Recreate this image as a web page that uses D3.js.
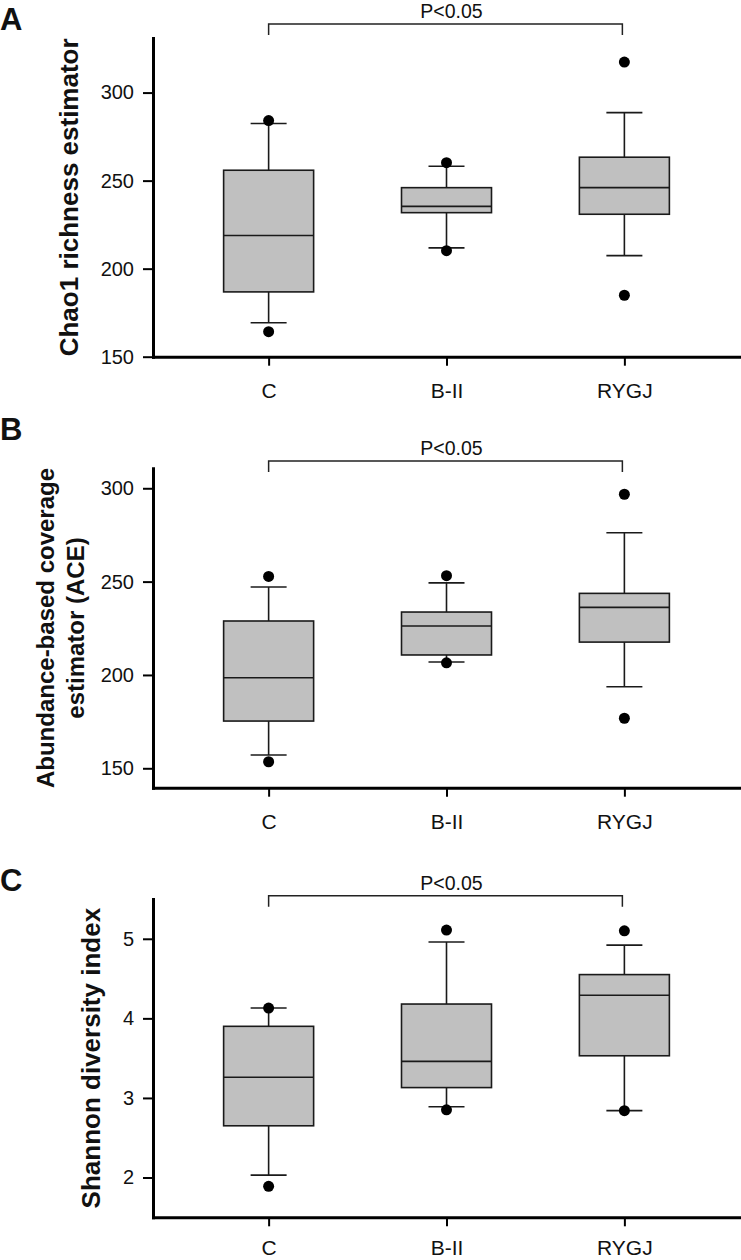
<!DOCTYPE html>
<html>
<head>
<meta charset="utf-8">
<script src="https://cdn.jsdelivr.net/npm/d3@7/dist/d3.min.js"></script>
<style>
  html, body { margin: 0; padding: 0; background: #fff; }
  svg { display: block; }
  text { font-family: "Liberation Sans", Arial, sans-serif; fill: #111; }
</style>
</head>
<body>
<svg id="chart" width="741" height="1260"></svg>
<script>
// ---------- data ----------
const categories = ["C", "B-II", "RYGJ"];
// each row: [low outlier, lower whisker, Q1, median, Q3, upper whisker, high outlier]
const chao1Stats = [
  [164.2, 169.3, 186.8, 218.8, 255.9, 282.4, 284.1],
  [210.2, 211.8, 231.8, 235.4, 246.0, 258.2, 260.2],
  [184.9, 207.4, 230.9, 246.0, 263.3, 288.6, 317.3]
];
const aceStats = [
  [153.5, 157.1, 175.3, 198.5, 228.9, 247.1, 252.8],
  [206.5, 206.9, 210.7, 226.2, 233.7, 249.3, 253.2],
  [176.8, 193.7, 217.6, 236.2, 243.7, 276.2, 296.8]
];
const shannonStats = [
  [1.89, 2.03, 2.65, 3.26, 3.90, 4.13, 4.13],
  [2.85, 2.89, 3.13, 3.46, 4.18, 4.96, 5.11],
  [2.84, 2.84, 3.53, 4.29, 4.55, 4.92, 5.10]
];
const chao1Ticks = [150, 200, 250, 300];
const aceTicks = [150, 200, 250, 300];
const shannonTicks = [2, 3, 4, 5];
const chao1Domain = [150, 331];
const aceDomain = [139.6, 310.7];
const shannonDomain = [1.5, 5.5];
const pLabel = "P<0.05";
const bracketPairs = [["C", "RYGJ"], ["C", "RYGJ"], ["C", "RYGJ"]];
const bracketLevels = [338.9, 314.6, 5.54];
const panelLetters = ["A", "B", "C"];
const yTitles = [["Chao1 richness estimator"], ["Abundance-based coverage", "estimator (ACE)"], ["Shannon diversity index"]];

// ---------- layout ----------
const svg = d3.select("#chart");
const axisX = 153, axisRight = 740;
const panels = [
  { stats: chao1Stats, ticks: chao1Ticks, domain: chao1Domain, top: 38, bottom: 356.7, letterY: 30,
    titleX: [69], titleSize: 26, xPad: 17 },
  { stats: aceStats, ticks: aceTicks, domain: aceDomain, top: 468.3, bottom: 787.7, letterY: 440,
    titleX: [46, 76], titleSize: 24, xPad: 17 },
  { stats: shannonStats, ticks: shannonTicks, domain: shannonDomain, top: 899, bottom: 1217.3, letterY: 891,
    titleX: [91], titleSize: 26, xPad: 13.5 }
];

const x = d3.scalePoint().domain(categories).range([axisX, axisRight]).padding(0.65);
const boxW = 90, capW = 36, dotR = 5.5;

panels.forEach((p, i) => {
  const y = d3.scaleLinear().domain(p.domain).range([p.bottom, p.top]);
  const g = svg.append("g");

  // panel letter
  g.append("text").attr("x", 0).attr("y", p.letterY)
    .attr("font-size", 31).attr("font-weight", "bold").text(panelLetters[i]);

  // y title
  const cy = (p.top + p.bottom) / 2;
  yTitles[i].forEach((line, j) => {
    g.append("text")
      .attr("transform", `translate(${p.titleX[j]},${cy}) rotate(-90)`)
      .attr("text-anchor", "middle").attr("dy", "0.35em")
      .attr("font-size", p.titleSize).attr("font-weight", "bold")
      .text(line);
  });

  // boxes
  const boxes = g.selectAll(".box").data(p.stats).join("g")
    .attr("transform", (d, k) => `translate(${x(categories[k])},0)`);
  const lineStyle = s => s.attr("stroke", "#1a1a1a").attr("stroke-width", 1.6);
  boxes.append("line").attr("x1", 0).attr("x2", 0)
    .attr("y1", d => y(d[1])).attr("y2", d => y(d[2])).call(lineStyle);
  boxes.append("line").attr("x1", 0).attr("x2", 0)
    .attr("y1", d => y(d[4])).attr("y2", d => y(d[5])).call(lineStyle);
  boxes.append("line").attr("x1", -capW / 2).attr("x2", capW / 2)
    .attr("y1", d => y(d[1])).attr("y2", d => y(d[1])).call(lineStyle);
  boxes.append("line").attr("x1", -capW / 2).attr("x2", capW / 2)
    .attr("y1", d => y(d[5])).attr("y2", d => y(d[5])).call(lineStyle);
  boxes.append("rect").attr("x", -boxW / 2).attr("width", boxW)
    .attr("y", d => y(d[4])).attr("height", d => y(d[2]) - y(d[4]))
    .attr("fill", "#c0c0c0").call(lineStyle);
  boxes.append("line").attr("x1", -boxW / 2).attr("x2", boxW / 2)
    .attr("y1", d => y(d[3])).attr("y2", d => y(d[3])).call(lineStyle);
  boxes.append("circle").attr("cx", 0).attr("cy", d => y(d[0])).attr("r", dotR).attr("fill", "#000");
  boxes.append("circle").attr("cx", 0).attr("cy", d => y(d[6])).attr("r", dotR).attr("fill", "#000");

  // y axis
  const ya = g.append("g").attr("transform", `translate(${axisX},0)`)
    .call(d3.axisLeft(y).tickValues(p.ticks).tickFormat(d3.format("d"))
      .tickSize(10).tickSizeOuter(0).tickPadding(9));
  ya.select(".domain").attr("stroke", "#000").attr("stroke-width", 3).attr("stroke-linecap", "square");
  ya.selectAll(".tick line").attr("stroke", "#000").attr("stroke-width", 2);
  ya.selectAll(".tick text").attr("font-size", 20).attr("font-family", "Liberation Sans, Arial, sans-serif").attr("fill", "#111");

  // x axis
  const xa = g.append("g").attr("transform", `translate(0,${p.bottom})`)
    .call(d3.axisBottom(x).tickSize(9).tickSizeOuter(0).tickPadding(p.xPad));
  xa.select(".domain").attr("stroke", "#000").attr("stroke-width", 3).attr("stroke-linecap", "square");
  xa.selectAll(".tick line").attr("stroke", "#000").attr("stroke-width", 2);
  xa.selectAll(".tick text").attr("font-size", 21).attr("font-family", "Liberation Sans, Arial, sans-serif").attr("fill", "#111");

  // significance bracket
  const [a, b] = bracketPairs[i];
  const by = y(bracketLevels[i]);
  const x1 = x(a), x2 = x(b) - 2;
  g.append("path")
    .attr("d", `M${x1},${by + 11}V${by}H${x2}V${by + 11}`)
    .attr("fill", "none").attr("stroke", "#222").attr("stroke-width", 1.5);
  g.append("text").attr("x", (x1 + x2) / 2 + 6).attr("y", by - 6)
    .attr("text-anchor", "middle").attr("font-size", 19.5).text(pLabel);
});
</script>
</body>
</html>
